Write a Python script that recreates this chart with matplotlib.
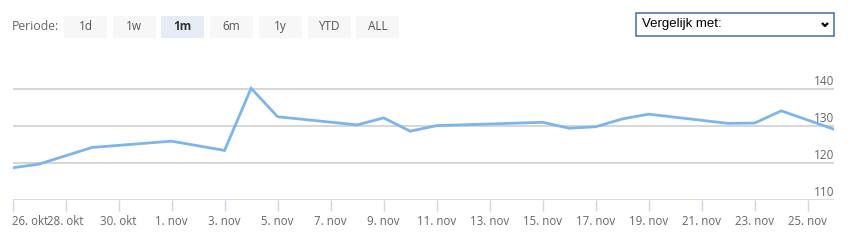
import matplotlib
matplotlib.use("Agg")
import matplotlib.pyplot as plt
from matplotlib.patches import Rectangle
import numpy as np
import pandas as pd

# price series
dates = ["2018-10-26", "2018-10-27", "2018-10-29", "2018-11-01", "2018-11-03",
         "2018-11-04", "2018-11-05", "2018-11-08", "2018-11-09", "2018-11-10",
         "2018-11-11", "2018-11-15", "2018-11-16", "2018-11-17", "2018-11-18",
         "2018-11-19", "2018-11-22", "2018-11-23", "2018-11-24", "2018-11-26"]
prices = [118.7, 119.7, 124.2, 125.9, 123.4,
          140.2, 132.5, 130.3, 132.2, 128.6,
          130.1, 131.0, 129.4, 129.8, 131.9,
          133.2, 130.7, 130.8, 134.1, 129.1]

tick_dates = ["2018-10-26", "2018-10-28", "2018-10-30", "2018-11-01", "2018-11-03",
              "2018-11-05", "2018-11-07", "2018-11-09", "2018-11-11", "2018-11-13",
              "2018-11-15", "2018-11-17", "2018-11-19", "2018-11-21", "2018-11-23",
              "2018-11-25"]
tick_labels = ["26. okt", "28. okt", "30. okt", "1. nov", "3. nov", "5. nov", "7. nov",
               "9. nov", "11. nov", "13. nov", "15. nov", "17. nov", "19. nov",
               "21. nov", "23. nov", "25. nov"]
y_ticks = [110, 120, 130, 140]

buttons = ["1d", "1w", "1m", "6m", "1y", "YTD", "ALL"]
selected = "1m"

plt.rcParams["font.family"] = ["Open Sans", "DejaVu Sans"]

W, H = 858, 240
fig = plt.figure(figsize=(W / 100, H / 100), dpi=100)
fig.patch.set_facecolor("white")

x = pd.to_datetime(dates)
xt = pd.to_datetime(tick_dates)
x0 = x[0]
days = np.array([(d - x0).days for d in x], dtype=float)
tdays = np.array([(d - x0).days for d in xt], dtype=float)

left, right = 12.5, 834.3
bottom_px, top_px = 200, 70.5
ax = fig.add_axes([left / W, 1 - bottom_px / H, (right - left) / W, (bottom_px - top_px) / H])
ax.set_xlim(0, 31)
ax.set_ylim(110, 145)
ax.set_facecolor("none")
for s in ax.spines.values():
    s.set_visible(False)

for v in y_ticks[1:]:
    ax.axhline(v, color="#d6d6d6", lw=1.4, zorder=1)
ax.axhline(110, color="#ccd6eb", lw=1.2, zorder=2)

ax.plot(days, prices, color="#7cb5ec", lw=2, zorder=3, solid_joinstyle="miter")

ax.set_yticks([])
ax.set_xticks(tdays)
ax.set_xticklabels(tick_labels)
ax.tick_params(axis="x", length=8, width=1, color="#ccd6eb", labelcolor="#666666",
               labelsize=8.3, pad=3)
ax.get_xticklabels()[0].set_horizontalalignment("left")

for v in y_ticks:
    ax.annotate(str(v), xy=(31, v), xytext=(0, 1), textcoords="offset points",
                ha="right", va="bottom", fontsize=8.5, color="#666666")

# top controls drawn in pixel coordinates
ui = fig.add_axes([0, 0, 1, 1])
ui.set_xlim(0, W)
ui.set_ylim(H, 0)
ui.axis("off")
ui.patch.set_alpha(0)

ui.text(12, 26.5, "Periode:", fontsize=8.8, color="#666666", ha="left", va="center")
for i, b in enumerate(buttons):
    bx = 64 + i * 48.7
    fc = "#e6ebf5" if b == selected else "#f7f7f7"
    ui.add_patch(Rectangle((bx, 16), 43, 21.5, facecolor=fc, edgecolor="none"))
    ui.text(bx + 21.5, 26.5, b, fontsize=8.5, ha="center", va="center",
            color="#333333" if b == selected else "#555555",
            fontweight="bold" if b == selected else "normal")

ui.add_patch(Rectangle((636, 12.5), 198, 23.5, facecolor="white", edgecolor="#3f6fa6", lw=1.1))
ui.text(642, 24.5, "Vergelijk met:", family="Liberation Sans", fontsize=9.5,
        color="#000000", ha="left", va="center")
ui.plot([822, 825, 828], [23, 26, 23], color="#000000", lw=1.6, solid_capstyle="butt")

fig.savefig("out.png", dpi=100, facecolor="white")
